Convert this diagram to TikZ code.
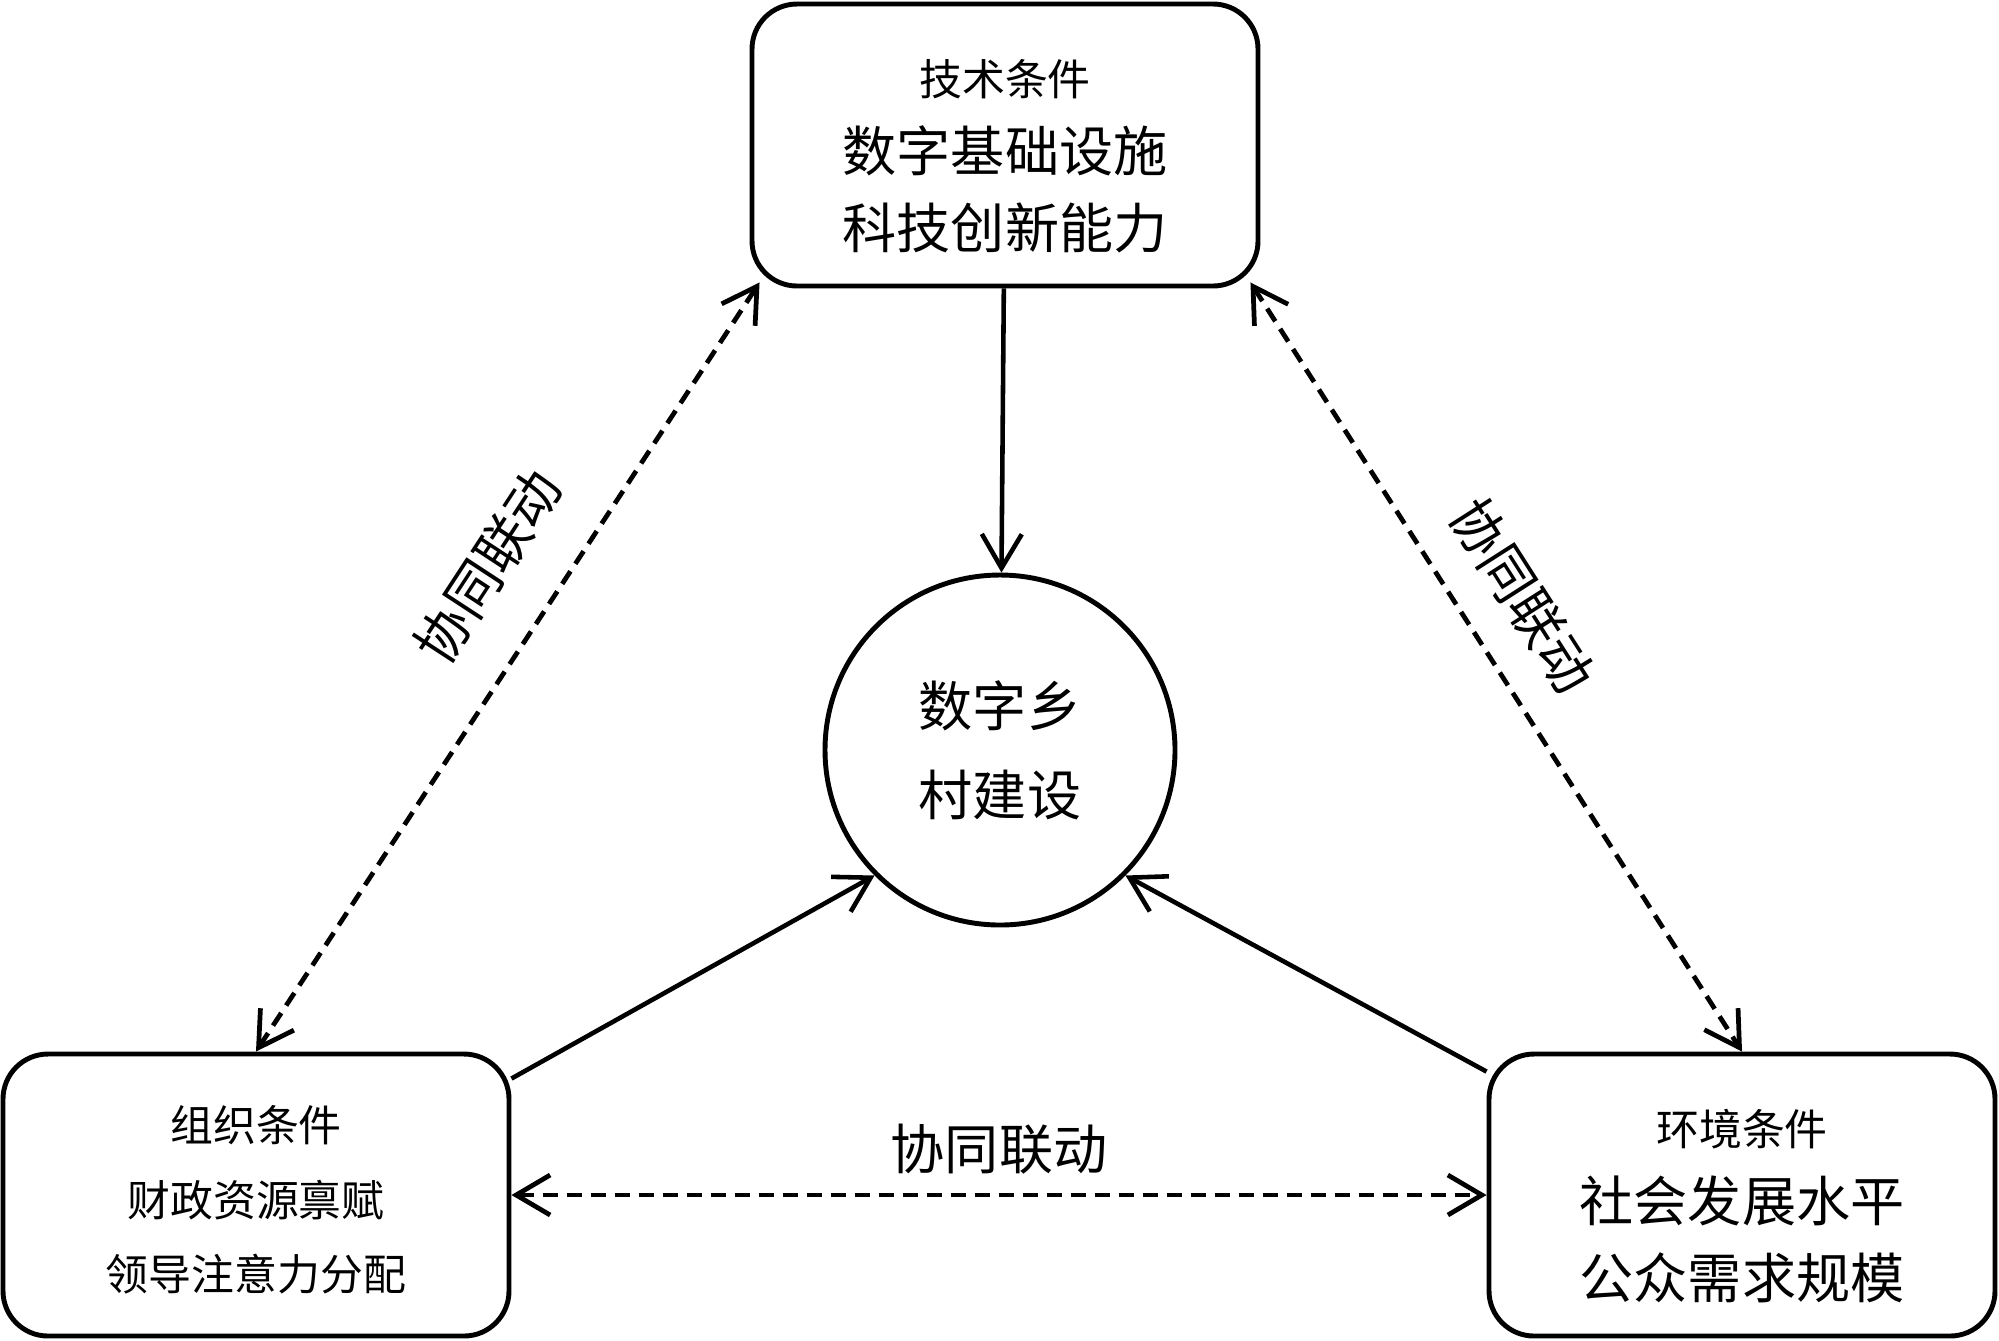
\documentclass[tikz,border=0pt]{standalone}
\usepackage{fontspec}
\setmainfont{Noto Sans CJK SC}
\usetikzlibrary{arrows.meta, calc}

\begin{document}
\begin{tikzpicture}
                [x=0.1mm, y=-0.1mm,
                bsty/.style={rectangle, rounded corners=4.5mm, draw=black, line width=1.4pt, minimum width=50.6mm, minimum height=28.2mm, align=center, inner sep=0pt, font=\fontsize{15.4}{21.8}\selectfont},
                csty/.style={circle, draw=black, line width=1.4pt, minimum size=35mm, align=center, inner sep=0pt, font=\fontsize{15.4}{25.3}\selectfont},
                lsty/.style={inner sep=0pt, font=\fontsize{15.4}{18}\selectfont},
                asty/.style={-{Straight Barb[length=3.4mm, width=4mm]}, line width=1.3pt},
                dsty/.style={{Straight Barb[length=3.4mm, width=4mm]}-{Straight Barb[length=3.4mm, width=4mm]}, line width=1.35pt, dash pattern=on 1.5mm off 0.9mm}]
                \useasboundingbox (0,0) rectangle (1999,1340);
                % nodes
                \node[bsty] (tech) at (1005,145)  {{\fontsize{12.2}{21.8}\selectfont\rule{0pt}{16.5pt}技术条件}\\数字基础设施\\科技创新能力};
                \node[bsty, font=\fontsize{12.2}{21.3}\selectfont] (org) at (256,1195) {\rule{0pt}{13pt}组织条件\\财政资源禀赋\\领导注意力分配};
                \node[bsty] (env) at (1742,1195) {{\fontsize{12.2}{21.8}\selectfont\rule{0pt}{16.5pt}环境条件}\\社会发展水平\\公众需求规模};
                \node[csty] (rural) at (1000,750) {数字乡\\村建设};
                % edges
                \draw[asty] (tech) -- (rural);
                \draw[asty] ($(org.north east)+(0,27)$) -- (rural.south west);
                \draw[asty] ($(env.north west)+(0,20)$) -- (rural.south east);
                \draw[dsty] (org.north) -- node[lsty, sloped, pos=0.58, above=4.4mm] {协同联动} ($(tech.south west)+(10,-6)$);
                \draw[dsty] ($(tech.south east)+(-10,-6)$) -- node[lsty, sloped, pos=0.45, above=3.3mm] {协同联动} (env.north);
                \draw[dsty] (org.east) -- node[lsty, above=1.8mm] {协同联动} (env.west);
            \end{tikzpicture}
\end{document}
